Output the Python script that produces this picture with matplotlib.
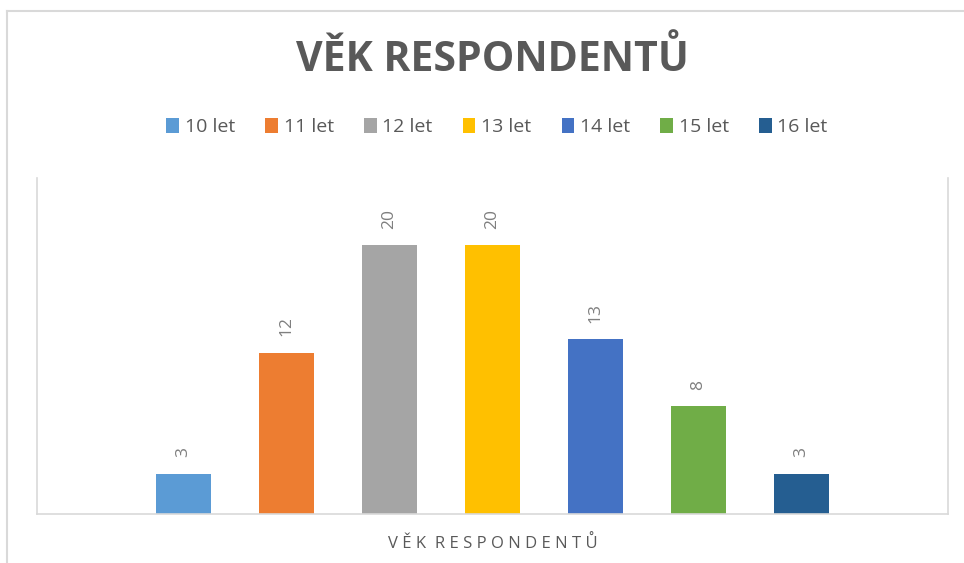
import matplotlib
matplotlib.use("Agg")
import matplotlib.pyplot as plt
from matplotlib.lines import Line2D
from matplotlib.patches import Patch

categories = ["10 let", "11 let", "12 let", "13 let", "14 let", "15 let", "16 let"]
values = [3, 12, 20, 20, 13, 8, 3]
colors = ["#5B9BD5", "#ED7D31", "#A5A5A5", "#FFC000", "#4472C4", "#70AD47", "#255E91"]
title = "VĚK RESPONDENTŮ"
xlabel = "VĚK RESPONDENTŮ"

plt.rcParams['font.family'] = ['Open Sans', 'DejaVu Sans']
W, H = 964, 563
fig = plt.figure(figsize=(W / 100, H / 100), dpi=100)

ax = fig.add_axes([37 / W, (H - 514) / H, (948 - 37) / W, (514 - 178) / H])
n = len(values)
pos = [i - (n - 1) / 2 for i in range(n)]
ax.bar(pos, values, width=55 / 103, color=colors, zorder=2)
for x, v in zip(pos, values):
    ax.annotate(str(v), (x, v), xytext=(0, 12), textcoords="offset points",
                rotation=90, ha="center", va="bottom", fontsize=12.5, color="#7F7F7F")
ax.set_xlim(-911 / 103 / 2, 911 / 103 / 2)
ax.set_ylim(0, 25)
ax.set_xticks([])
ax.set_yticks([])
for s in ["left", "right", "bottom"]:
    ax.spines[s].set_color("#D9D9D9")
    ax.spines[s].set_linewidth(1.2)
ax.spines["top"].set_visible(False)
ax.set_xlabel(" ".join(xlabel).replace("   ", "  "), fontsize=12, color="#595959", labelpad=15)

fig.text(492 / W, 1 - 60 / H, title, ha="center", va="center", fontsize=29.5,
         fontweight="bold", color="#595959")

handles = [Patch(facecolor=c, edgecolor="none") for c in colors]
fig.legend(handles, categories, loc="center", bbox_to_anchor=(497 / W, 1 - 127 / H), ncol=n,
           frameon=False, fontsize=14, labelcolor="#595959", handlelength=0.65, handleheight=0.85,
           handletextpad=0.3, columnspacing=1.55)

# outer chart border
fig.add_artist(Line2D([7 / W, 7 / W], [0, 1 - 11 / H], color="#D9D9D9", lw=1.5))
fig.add_artist(Line2D([7 / W, 1], [1 - 11 / H, 1 - 11 / H], color="#D9D9D9", lw=1.5))

fig.savefig("out.png", dpi=100)
